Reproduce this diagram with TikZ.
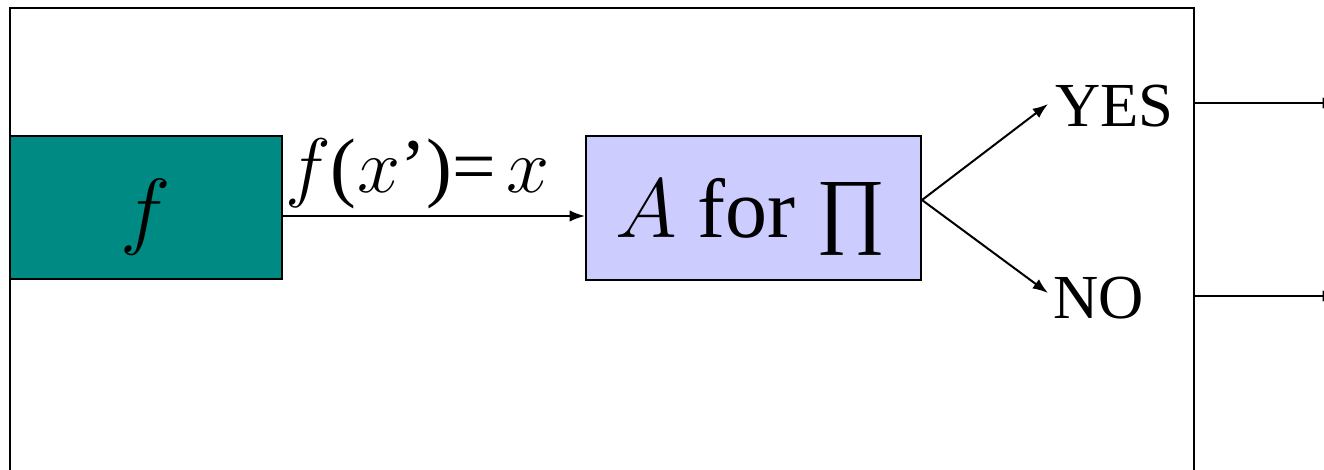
\RequirePackage{fix-cm}
\documentclass[tikz,border=0pt]{standalone}
\usepackage{fontspec}
\setmainfont{Liberation Serif}
\usetikzlibrary{arrows.meta}
\definecolor{tealbox}{RGB}{0,138,132}
\definecolor{lavbox}{RGB}{204,204,255}
\tikzset{
  boxstyle/.style={draw, line width=1.5pt, inner sep=0pt},
  txt/.style={inner sep=0pt, anchor=base west},
  conn/.style={line width=1.5pt, -{Latex[length=11.5pt,width=8.5pt]}}
}
\begin{document}
\begin{tikzpicture}[x=0.75pt,y=-0.75pt]
\useasboundingbox (0,0) rectangle (1324,470);
\clip (0,0) rectangle (1324,470);
\node[boxstyle, minimum width=888pt, minimum height=361.5pt] (frame) at (602,249) {};
\node[boxstyle, fill=tealbox, minimum width=204pt, minimum height=107.25pt] (fbox) at (146,207.5) {};
\node[boxstyle, fill=lavbox, minimum width=251.25pt, minimum height=108pt] (abox) at (753.5,208) {};
\node[inner sep=0pt, anchor=base] (flab) at (146,239) {\fontsize{64}{70}\selectfont$f$};
\node[txt] (alab) at (615,238) {\fontsize{63}{70}\selectfont$A$ for ∏};
\node[txt] (fx) at (285,193) {\fontsize{58}{64}\selectfont$f$(\kern1pt$x$’)=\kern8pt$x$};
\node[txt] (yes) at (1055,127) {\fontsize{47}{54}\selectfont YES};
\node[txt] (no) at (1053,318) {\fontsize{47}{54}\selectfont NO};
\coordinate (yesin) at (1048,104);
\coordinate (noin) at (1048,293);
\coordinate (outyes) at (1338,103);
\coordinate (outno) at (1338,296);
\draw[conn] (fbox.east |- 0,216) -- (abox.west |- 0,216);
\draw[conn] (abox.east |- 0,200) -- (yesin);
\draw[conn] (abox.east |- 0,200) -- (noin);
\draw[conn] (frame.east |- outyes) -- (outyes);
\draw[conn] (frame.east |- outno) -- (outno);
\end{tikzpicture}
\end{document}
